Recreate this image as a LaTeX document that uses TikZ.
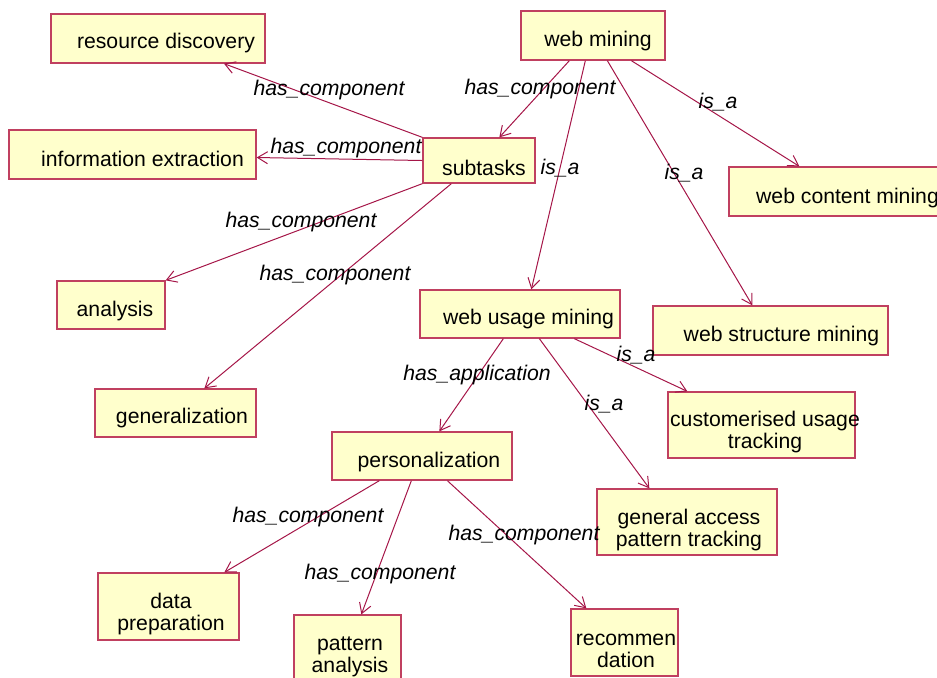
\documentclass[tikz,border=0pt]{standalone}
\usepackage{fontspec}
\setmainfont{Liberation Sans}
\usetikzlibrary{arrows.meta,calc}
\definecolor{boxfill}{RGB}{255,255,204}
\definecolor{boxline}{RGB}{192,64,96}
\definecolor{edgeline}{RGB}{165,22,72}
\begin{document}
\begin{tikzpicture}[x=0.5pt,y=-0.5pt,
  box/.style={draw=boxline,fill=boxfill,line width=0.65pt,rectangle,inner sep=0pt},
  txt/.style={inner sep=0pt,align=center,font=\fontsize{10.6}{11}\selectfont,yshift=-1.2pt},
  lbl/.style={inner sep=0pt,font=\fontsize{10.6}{11}\selectfont\itshape,yshift=-1.2pt},
  edge/.style={draw=edgeline,line width=0.5pt,-{Straight Barb[length=5pt,width=6pt]}}]
\useasboundingbox (0,0) rectangle (937,677);
% boxes
\node[box,minimum width=107,minimum height=24.5] (rd) at (158,38.5) {};
\node[box,minimum width=72,minimum height=24.5] (wm) at (593,35.5) {};
\node[box,minimum width=123.5,minimum height=24.5] (ie) at (132.5,154.5) {};
\node[box,minimum width=56,minimum height=22.5] (st) at (479,160.5) {};
\node[box,minimum width=110.5,minimum height=24.5] (wcm) at (839.5,191.5) {};
\node[box,minimum width=54,minimum height=24] (an) at (111,305) {};
\node[box,minimum width=100,minimum height=24] (wum) at (520,314) {};
\node[box,minimum width=117.5,minimum height=24.5] (wsm) at (770.5,330.5) {};
\node[box,minimum width=80.5,minimum height=24] (gen) at (175.5,413) {};
\node[box,minimum width=93.5,minimum height=33] (cut) at (761.5,425) {};
\node[box,minimum width=90,minimum height=24] (per) at (422,456) {};
\node[box,minimum width=90,minimum height=33] (gap) at (687,522) {};
\node[box,minimum width=70.5,minimum height=33.5] (dp) at (168.5,606.5) {};
\node[box,minimum width=53.5,minimum height=33.5] (pa) at (347.5,648.5) {};
\node[box,minimum width=53.5,minimum height=33.5] (rec) at (624.5,642.5) {};
% texts
\node[txt] (rdt) at (166,41) {resource discovery};
\node[txt] (wmt) at (598,39) {web mining};
\node[txt] (iet) at (142.5,157) {information extraction};
\node[txt] (stt) at (484,166) {subtasks};
\node[txt] (wcmt) at (847.5,196) {web content mining};
\node[txt] (ant) at (115,309) {analysis};
\node[txt] (wumt) at (528.5,317) {web usage mining};
\node[txt] (wsmt) at (781.5,334) {web structure mining};
\node[txt] (gent) at (182,416) {generalization};
\node[txt] (cutt) at (765,430) {customerised usage\\tracking};
\node[txt] (pert) at (429,460) {personalization};
\node[txt] (gapt) at (689,528) {general access\\pattern tracking};
\node[txt] (dpt) at (171,612) {data\\preparation};
\node[txt] (pat) at (350,654) {pattern\\analysis};
\node[txt] (rect) at (626,648) {recommen\\dation};
% edges
\draw[edge] (st.north west) -- ($(rd.south)+(66,0)$);
\draw[edge] (st.west) -- ($(ie.east)+(0,3)$);
\draw[edge] (st.south west) -- (an.north east);
\draw[edge] ($(st.south west)+(29,0)$) -- ($(gen.north west)+(110,0)$);
\draw[edge] ($(wm.south west)+(49,0)$) -- ($(st.north west)+(77,0)$);
\draw[edge] ($(wm.south west)+(65,0)$) -- ($(wum.north west)+(112,0)$);
\draw[edge] ($(wm.south west)+(87,0)$) -- ($(wsm.north west)+(100,0)$);
\draw[edge] ($(wm.south west)+(111,0)$) -- ($(wcm.north west)+(71,0)$);
\draw[edge] ($(wum.south west)+(84,0)$) -- ($(per.north west)+(108,0)$);
\draw[edge] ($(wum.south west)+(120,0)$) -- ($(gap.north west)+(53,0)$);
\draw[edge] ($(wum.south west)+(155,0)$) -- ($(cut.north west)+(20,0)$);
\draw[edge] ($(per.south west)+(48,0)$) -- ($(dp.north west)+(127,0)$);
\draw[edge] ($(per.south west)+(80,0)$) -- ($(pa.north west)+(68,0)$);
\draw[edge] ($(per.south west)+(116,0)$) -- ($(rec.north west)+(16,0)$);
% labels
\node[lbl] (l1) at (329,88) {has\_component};
\node[lbl] (l2) at (346,146) {has\_component};
\node[lbl] (l3) at (301,220) {has\_component};
\node[lbl] (l4) at (335,273) {has\_component};
\node[lbl] (l5) at (540,87) {has\_component};
\node[lbl] (l6) at (560,166) {is\_a};
\node[lbl] (l7) at (684,171) {is\_a};
\node[lbl] (l8) at (718,100) {is\_a};
\node[lbl] (l9) at (477,373) {has\_application};
\node[lbl] (l10) at (604,402) {is\_a};
\node[lbl] (l11) at (636,353) {is\_a};
\node[lbl] (l12) at (308,515) {has\_component};
\node[lbl] (l13) at (380,572) {has\_component};
\node[lbl] (l14) at (524,533) {has\_component};
\end{tikzpicture}
\end{document}
